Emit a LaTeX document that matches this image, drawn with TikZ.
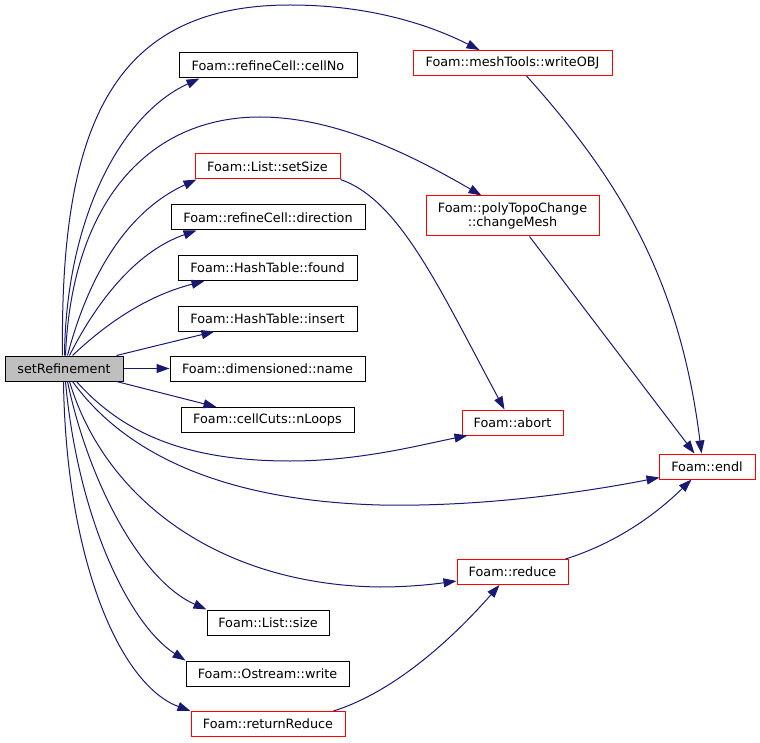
\documentclass[tikz,border=0pt]{standalone}
\usepackage{fontspec}
\setmainfont{DejaVu Sans}
\usetikzlibrary{arrows.meta,calc}
\definecolor{edgeblue}{HTML}{191970}
\definecolor{nodegray}{HTML}{BFBFBF}
\definecolor{nodered}{HTML}{FF0000}
\begin{document}
\begin{tikzpicture}[x=1pt,y=-1pt,
  fn/.style={draw=black,line width=1pt,minimum height=25pt,inner sep=0pt,
    font=\fontsize{12.8}{14}\selectfont,anchor=center,align=center},
  redfn/.style={fn,draw=nodered},
  edge/.style={draw=edgeblue,line width=1pt,-{Triangle[length=13pt,width=9pt]}}]
\useasboundingbox (0,0) rectangle (760,743);

% nodes
\node[fn,minimum width=118pt,fill=nodegray] (setref) at (64,368.5) {setRefinement};
\node[fn,minimum width=178pt] (cellno) at (268,65.5) {Foam::refineCell::cellNo};
\node[redfn,minimum width=145pt] (setsize) at (267.5,166.5) {Foam::List::setSize};
\node[fn,minimum width=194pt] (direction) at (268,217.5) {Foam::refineCell::direction};
\node[fn,minimum width=179pt] (found) at (267.5,268) {Foam::HashTable::found};
\node[fn,minimum width=179pt] (insert) at (267.5,318.5) {Foam::HashTable::insert};
\node[fn,minimum width=195pt] (name) at (267.5,368.5) {Foam::dimensioned::name};
\node[fn,minimum width=173pt] (nloops) at (267.5,420) {Foam::cellCuts::nLoops};
\node[fn,minimum width=122pt] (lsize) at (268,622.5) {Foam::List::size};
\node[fn,minimum width=163pt] (owrite) at (267.5,673.5) {Foam::Ostream::write};
\node[redfn,minimum width=154pt] (rreduce) at (268,724) {Foam::returnReduce};
\node[redfn,minimum width=199pt] (writeobj) at (512.5,63) {Foam::meshTools::writeOBJ};
\node[redfn,minimum width=173pt,minimum height=40pt] (changemesh) at (512.5,216) {Foam::polyTopoChange\\::changeMesh};
\node[redfn,minimum width=101pt] (abort) at (512.5,422.5) {Foam::abort};
\node[redfn,minimum width=96pt] (endl) at (707,466.5) {Foam::endl};
\node[redfn,minimum width=111pt] (reduce) at (512.5,572) {Foam::reduce};

% edges from setRefinement (top side)
\draw[edge] ($(setref.north west)+(58,0)$) .. controls (60,130) and (110,5) .. (290,5)
  .. controls (370,5) and (430,25) .. ($(writeobj.north west)+(67,0)$);
\draw[edge] ($(setref.north west)+(60,0)$) .. controls (66,220) and (120,115) .. ($(cellno.south west)+(21,0)$);
\draw[edge] ($(setref.north west)+(61,0)$) .. controls (72,200) and (150,117) .. (260,117)
  .. controls (340,117) and (420,160) .. ($(changemesh.north west)+(56,0)$);
\draw[edge] ($(setref.north west)+(63,0)$) .. controls (90,270) and (130,210) .. ($(setsize.south west)+(2,0)$);
\draw[edge] ($(setref.north west)+(65,0)$) .. controls (100,295) and (140,250) .. ($(direction.south west)+(26,0)$);
\draw[edge] ($(setref.north west)+(68,0)$) .. controls (110,320) and (150,295) .. ($(found.south west)+(27,0)$);
\draw[edge] ($(setref.north west)+(112,0)$) -- ($(insert.south west)+(37,0)$);
\draw[edge] (setref.east) -- (name.west);
% edges from setRefinement (bottom side)
\draw[edge] ($(setref.south west)+(112,0)$) -- ($(nloops.north west)+(36,0)$);
\draw[edge] ($(setref.south west)+(72,0)$) .. controls (120,430) and (180,461) .. (290,461)
  .. controls (360,461) and (420,445) .. ($(abort.south west)+(6,0)$);
\draw[edge] ($(setref.south west)+(68,0)$) .. controls (115,440) and (200,500) .. (380,505)
  .. controls (480,507) and (580,493) .. ($(endl.south west)+(1,-2)$);
\draw[edge] ($(setref.south west)+(65,0)$) .. controls (105,500) and (220,585) .. (380,587)
  .. controls (410,587) and (435,584) .. ($(reduce.south west)+(0,-4)$);
\draw[edge] ($(setref.south west)+(63,0)$) .. controls (88,480) and (140,580) .. (lsize.north west);
\draw[edge] ($(setref.south west)+(61,0)$) .. controls (78,520) and (130,625) .. (owrite.north west);
\draw[edge] ($(setref.south west)+(59,0)$) .. controls (66,560) and (120,685) .. (rreduce.north west);

% other edges
\draw[edge] (setsize.south east) .. controls (400,200) and (440,290) .. ($(abort.north west)+(43,0)$);
\draw[edge] ($(writeobj.south west)+(114,0)$) .. controls (620,180) and (680,280) .. ($(endl.north west)+(43,0)$);
\draw[edge] ($(changemesh.south west)+(104,0)$) -- ($(endl.north west)+(36,0)$);
\draw[edge] ($(reduce.north east)+(-3,0)$) .. controls (610,545) and (650,520) .. ($(endl.south west)+(33,0)$);
\draw[edge] ($(rreduce.north east)+(-12,0)$) .. controls (400,690) and (460,630) .. ($(reduce.south west)+(43,0)$);
\end{tikzpicture}
\end{document}
